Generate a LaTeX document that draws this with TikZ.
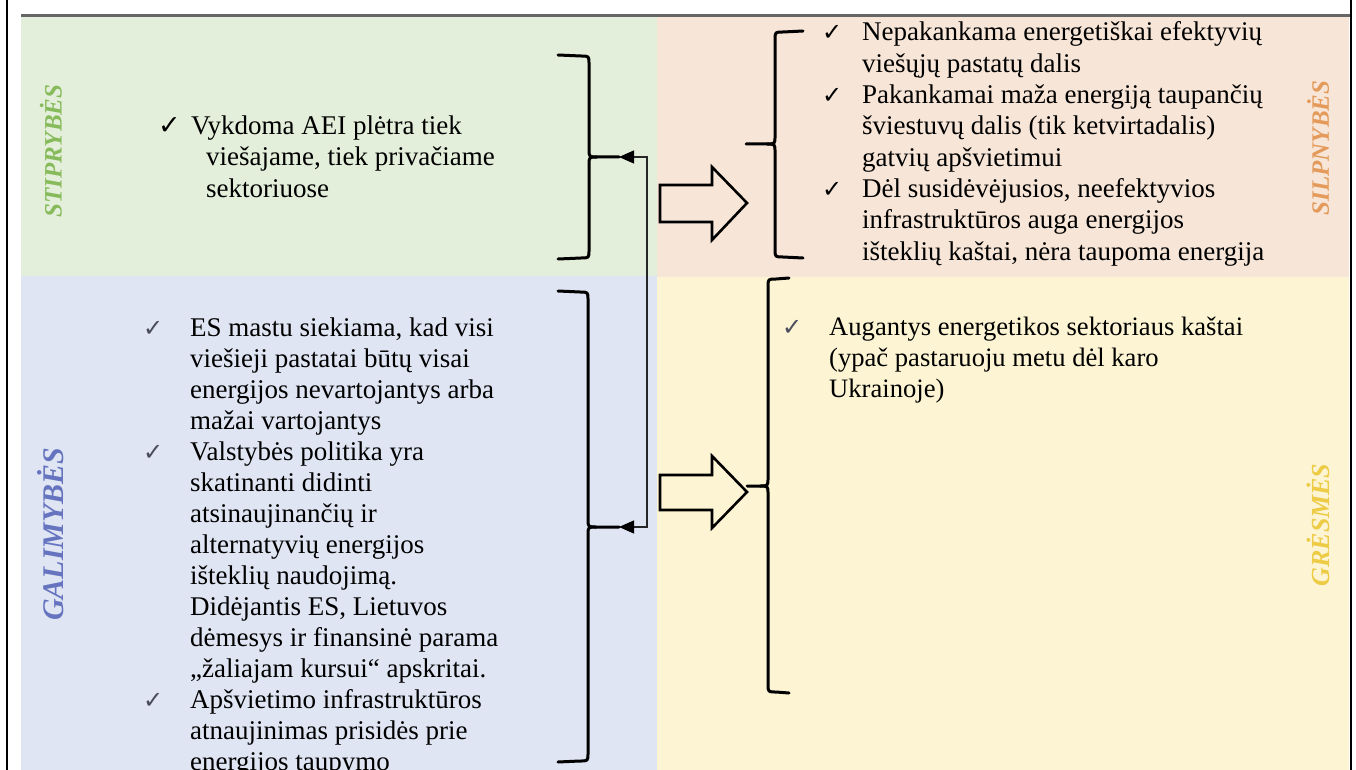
\documentclass[tikz,border=0pt]{standalone}
\usepackage{fontspec}
\setmainfont{Liberation Serif}
\newfontfamily\symf{DejaVu Sans}
\usetikzlibrary{arrows.meta}
\definecolor{bggreen}{HTML}{E3EFDA}
\definecolor{bgpeach}{HTML}{F7E5D7}
\definecolor{bgblue}{HTML}{DFE5F3}
\definecolor{bgyellow}{HTML}{FCF4D2}
\definecolor{lgreen}{HTML}{86BA5A}
\definecolor{lblue}{HTML}{6674C0}
\definecolor{lorange}{HTML}{E39A5A}
\definecolor{lyellow}{HTML}{EDCB45}
\definecolor{chkgray}{HTML}{4A4C5C}
\newcommand{\RBraceShape}[6]{% x, ytop, ymid, ybot, hook end x, nib end x
  \draw[bracestyle] (#5,#2) -- (#1-8,#2+1) .. controls (#1,#2+1) .. (#1,#2+9) -- (#1,#3-8) .. controls (#1,#3) .. (#1+8,#3) -- (#6,#3);
  \draw[bracestyle] (#1+8,#3) .. controls (#1,#3) .. (#1,#3+8) -- (#1,#4-9) .. controls (#1,#4-1) .. (#1-8,#4-1) -- (#5,#4);
}
\newcommand{\LBraceShape}[6]{% x, ytop, ymid, ybot, hook end x, nib end x
  \draw[bracestyle] (#5,#2) -- (#1+8,#2+1) .. controls (#1,#2+1) .. (#1,#2+9) -- (#1,#3-8) .. controls (#1,#3) .. (#1-8,#3) -- (#6,#3);
  \draw[bracestyle] (#1-8,#3) .. controls (#1,#3) .. (#1,#3+8) -- (#1,#4-9) .. controls (#1,#4-1) .. (#1+8,#4-1) -- (#5,#4);
}
\begin{document}
\begin{tikzpicture}[x=1pt,y=-1pt,
  txt/.style={anchor=base west, inner sep=0pt, font=\fontsize{27}{31}\selectfont},
  chk/.style={anchor=base west, inner sep=0pt, font=\symf\fontsize{24}{28}\selectfont},
  lbl/.style={rotate=90, inner sep=0pt, font=\fontsize{25}{30}\selectfont\bfseries\itshape},
  bracestyle/.style={line width=3pt, line cap=round, line join=round},
  blockarrow/.style={line width=2.6pt, line join=miter},
  thinline/.style={line width=1.2pt, draw=black!85},
  >={Triangle[length=15pt,width=13pt,fill=black,color=black]},
  ]
\useasboundingbox (0,0) rectangle (1356,770);
\fill[white] (0,0) rectangle (1356,770);
% quadrants
\fill[bggreen] (21,17) rectangle (657,276);
\fill[bgblue] (21,276) rectangle (657,770);
\fill[bgpeach] (657,17) rectangle (1349,277);
\fill[bgyellow] (657,277) rectangle (1349,770);
% frame lines
\draw[line width=2pt] (7,0) -- (7,770);
\draw[line width=1.6pt] (1351,0) -- (1351,770);
\draw[line width=3pt, draw=black!60] (21,15.5) -- (1350,15.5);
% labels
\node[lbl, text=lgreen] (lS) at (51,151) {STIPRYBĖS};
\node[lbl, text=lblue, font=\fontsize{30}{34}\selectfont\bfseries\itshape] (lG) at (51,534) {GALIMYBĖS};
\node[lbl, text=lorange] (lW) at (1318,148) {SILPNYBĖS};
\node[lbl, text=lyellow, font=\fontsize{26}{30}\selectfont\bfseries\itshape] (lT) at (1318,525) {GRĖSMĖS};
% strengths text
\node[chk, font=\symf\fontsize{27}{30}\selectfont] (sc1) at (158,135) {✓};
\node[txt] (s1) at (191,135) {Vykdoma AEI plėtra tiek};
\node[txt] (s2) at (206,166) {viešajame, tiek privačiame};
\node[txt] (s3) at (206,197) {sektoriuose};
% weaknesses text
\foreach \t [count=\i from 0] in {{Nepakankama energetiškai efektyvių},{viešųjų pastatų dalis},{Pakankamai maža energiją taupančių},{šviestuvų dalis (tik ketvirtadalis)},{gatvių apšvietimui},{Dėl susidėvėjusios, neefektyvios},{infrastruktūros auga energijos},{išteklių kaštai, nėra taupoma energija}}
  \node[txt] (w\i) at (862,41+\i*31.3) {\t};
\foreach \i in {0,2,5}
  \node[chk] (wc\i) at (822,41+\i*31.3) {✓};
% opportunities text
\foreach \t [count=\i from 0] in {{ES mastu siekiama, kad visi},{viešieji pastatai būtų visai},{energijos nevartojantys arba},{mažai vartojantys},{Valstybės politika yra},{skatinanti didinti},{atsinaujinančių ir},{alternatyvių energijos},{išteklių naudojimą.},{Didėjantis ES, Lietuvos},{dėmesys ir finansinė parama},{„žaliajam kursui“ apskritai.},{Apšvietimo infrastruktūros},{atnaujinimas prisidės prie},{energijos taupymo}}
  \node[txt] (o\i) at (190,336+\i*31.0) {\t};
\foreach \i in {0,4,12}
  \node[chk, text=chkgray] (oc\i) at (143,336+\i*31.0) {✓};
% threats text
\node[chk, text=chkgray] (tc0) at (782,335) {✓};
\foreach \t [count=\i from 0] in {{Augantys energetikos sektoriaus kaštai},{(ypač pastaruoju metu dėl karo},{Ukrainoje)}}
  \node[txt, font=\fontsize{26.6}{31}\selectfont] (t\i) at (829,335+\i*31) {\t};
% braces
\RBraceShape{589}{55}{157}{259}{558}{619}
\RBraceShape{588}{291}{527}{762}{558}{619}
\LBraceShape{775}{31}{144}{258}{803}{746}
\LBraceShape{768}{278}{486}{693}{789}{747}
\coordinate (gnib) at (619,157);
\coordinate (bnib) at (619,527);
% connector between strengths and opportunities
\draw[thinline, <->] (gnib) -- ++(28,0) |- (bnib);
% block arrows
\draw[blockarrow] (660,185) -- (712,185) -- (712,167) -- (747,203) -- (712,240) -- (712,222) -- (660,222) -- cycle;
\draw[blockarrow] (660,475) -- (712,475) -- (712,456) -- (747,492) -- (712,528) -- (712,510) -- (660,510) -- cycle;
\end{tikzpicture}
\end{document}
